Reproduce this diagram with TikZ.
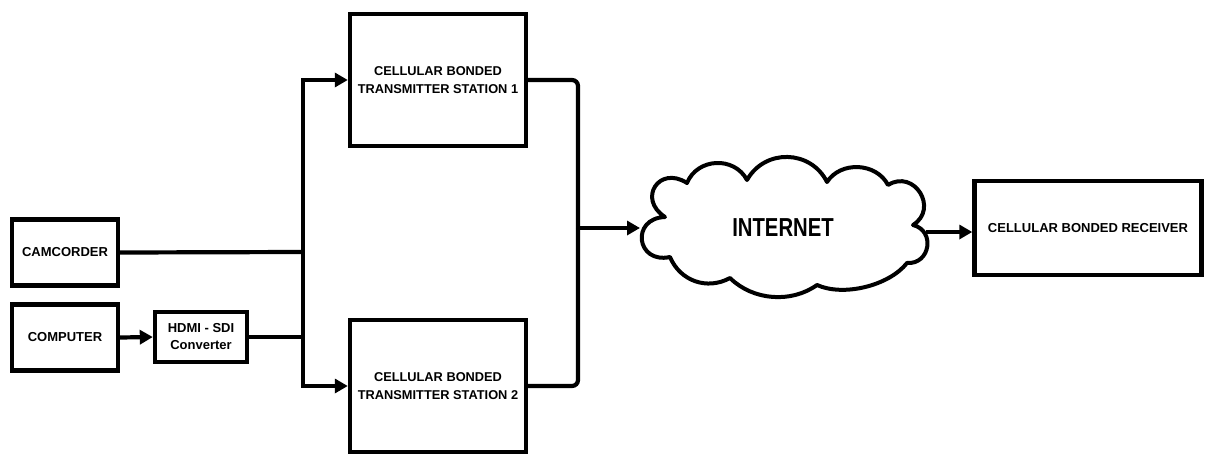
\documentclass[tikz,border=0pt]{standalone}
\usepackage{fontspec}
\setmainfont{Liberation Sans}
\usetikzlibrary{arrows.meta}
\begin{document}
\begin{tikzpicture}[x=1pt,y=-1pt,
  box/.style={draw=black,line width=4.4pt,fill=white,inner sep=0pt,align=center,
    font=\fontsize{13}{17}\selectfont\bfseries},
  txbox/.style={box,minimum width=176pt,minimum height=132pt,
    font=\fontsize{12.8}{18.5}\selectfont\bfseries},
  conn/.style={line width=4.2pt},
  arr/.style={line width=4.2pt,-{Triangle[length=13pt,width=14pt]}},
  puff/.style={line width=4pt,line join=round},
]
\useasboundingbox (0,0) rectangle (1206,455);
\node[box,minimum width=106pt,minimum height=66pt] (cam) at (65,252.5) {CAMCORDER};
\node[box,minimum width=106pt,minimum height=66pt] (comp) at (65,337.5) {COMPUTER};
\node[box,minimum width=92pt,minimum height=50pt] (hdmi) at (201,337) {HDMI - SDI\\Converter};
\node[txbox] (tx1) at (438,80) {CELLULAR BONDED\\TRANSMITTER STATION 1};
\node[txbox] (tx2) at (438,386) {CELLULAR BONDED\\TRANSMITTER STATION 2};
\node[box,minimum width=227pt,minimum height=94pt] (rx) at (1088,228) {CELLULAR BONDED RECEIVER};
% cloud
\coordinate (c1) at (687,183);
\coordinate (c2) at (747,180);
\coordinate (c3) at (827,182);
\coordinate (c4) at (888,185);
\coordinate (c5) at (913,225);
\coordinate (c6) at (907,263);
\coordinate (c7) at (817,285);
\coordinate (c8) at (730,278);
\coordinate (c9) at (670,257);
\coordinate (c10) at (665,217);
\draw[puff] (c10) to[bend left=90,looseness=2.1] (c1)
  to[bend left=65,looseness=1.16] (c2)
  to[bend left=62,looseness=1.16] (c3)
  to[bend left=60,looseness=1.06] (c4)
  to[bend left=90,looseness=1.67] (c5)
  to[bend left=85,looseness=1.55] (c6)
  to[bend left=38,looseness=0.8] (c7)
  to[bend left=40,looseness=0.94] (c8)
  to[bend left=48,looseness=1.05] (c9)
  to[bend left=95,looseness=2.2] (c10) -- cycle;
\node[font=\addfontfeature{FakeStretch=0.78}\fontsize{26}{30}\selectfont\bfseries] (net) at (783,228) {INTERNET};
\coordinate (netW) at (640,228);
\coordinate (netE) at (926,232);
\coordinate (tm) at (303,252);
\coordinate (ja) at (578,228);
\draw[conn] (cam.east) -- (tm);
\draw[arr] (comp.east) -- (hdmi.west);
\draw[conn] (hdmi.east) -- (hdmi.east -| tm);
\draw[arr] (tm) |- (tx1.west);
\draw[arr] (tm) |- (tx2.west);
\draw[conn,rounded corners=6pt] (tx1.east) -| (ja);
\draw[conn,rounded corners=6pt] (tx2.east) -| (ja);
\draw[arr] (ja) -- (netW);
\draw[arr] (netE) -- (rx.west |- netE);
\end{tikzpicture}
\end{document}
